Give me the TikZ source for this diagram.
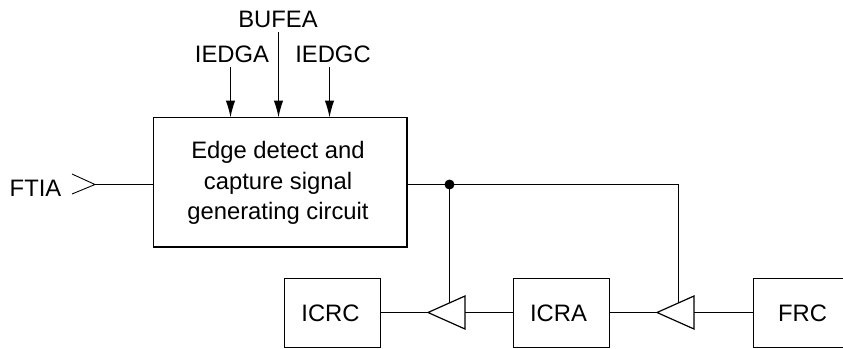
\documentclass[tikz,border=0pt]{standalone}
\usepackage{fontspec}
\setmainfont{Liberation Sans}
\usetikzlibrary{shapes.geometric,arrows.meta}
\tikzset{
  x=1pt,y=-1pt,
  wire/.style={line width=1.2pt,black},
  blockbox/.style={draw,line width=1.2pt,inner sep=0pt,outer sep=0pt,align=center,anchor=north west},
  buf/.style={draw,line width=1.2pt,isosceles triangle,isosceles triangle stretches,shape border rotate=180,minimum width=33pt,minimum height=37pt,inner sep=0pt,outer sep=0pt,anchor=apex},
  lab/.style={inner sep=0pt,font=\fontsize{23.8pt}{30.5pt}\selectfont},
  sig/.style={wire,-{Latex[length=17pt,width=9.5pt]}},
}
\begin{document}
\begin{tikzpicture}
\useasboundingbox (0,0) rectangle (843,348);
\node[blockbox,minimum width=253.5pt,minimum height=129.5pt,lab] (edge) at (153.5,117.5) {};
\node[lab,align=center] (edgetext) at (278,183) {Edge detect and\\capture signal\\generating circuit};
\node[blockbox,minimum width=96pt,minimum height=69pt] (icrc) at (284.5,278.5) {};
\node[lab] at (330.5,313) {ICRC};
\node[blockbox,minimum width=96pt,minimum height=69pt] (icra) at (513.5,278.5) {};
\node[lab] at (558.5,313) {ICRA};
\node[blockbox,minimum width=96pt,minimum height=69pt] (frc) at (753.5,278.5) {};
\node[lab] at (802.5,313) {FRC};
\node[buf] (b1) at (428,312.5) {};
\node[buf] (b2) at (657,312.5) {};
\node[lab,anchor=center] (ftia) at (35.5,188) {FTIA};
\node[lab] (iedga) at (232,54) {IEDGA};
\node[lab] (bufea) at (278,19) {BUFEA};
\node[lab] (iedgc) at (333,54) {IEDGC};
\coordinate (ita) at (230.5,67);
\coordinate (itb) at (278.5,32);
\coordinate (itc) at (329.5,67);
\coordinate (ea) at (230.5,117.5);
\coordinate (eb) at (278.5,117.5);
\coordinate (ec) at (329.5,117.5);
\draw[sig] (ita) -- (ea);
\draw[sig] (itb) -- (eb);
\draw[sig] (itc) -- (ec);
\coordinate (chevt) at (72,174);
\coordinate (chevb) at (72,194);
\coordinate (chevtip) at (95,184.5);
\draw[line width=0.9pt] (chevt) -- (chevtip) -- (chevb);
\draw[wire] (chevtip) -- (edge.west |- chevtip);
\coordinate (dot) at (449.5,184.5);
\coordinate (turn) at (678.5,184.5);
\coordinate (b1in) at (449.5,303);
\coordinate (b2in) at (678.5,303);
\draw[wire] (edge.east |- dot) -- (turn) -- (b2in);
\draw[wire] (dot) -- (b1in);
\fill (dot) circle (5pt);
\draw[wire] (b1.apex) -- (icrc.east |- b1.apex);
\draw[wire] (icra.west |- b1.apex) -- (b1.east |- b1.apex);
\draw[wire] (b2.apex) -- (icra.east |- b2.apex);
\draw[wire] (frc.west |- b2.apex) -- (b2.east |- b2.apex);
\end{tikzpicture}
\end{document}
